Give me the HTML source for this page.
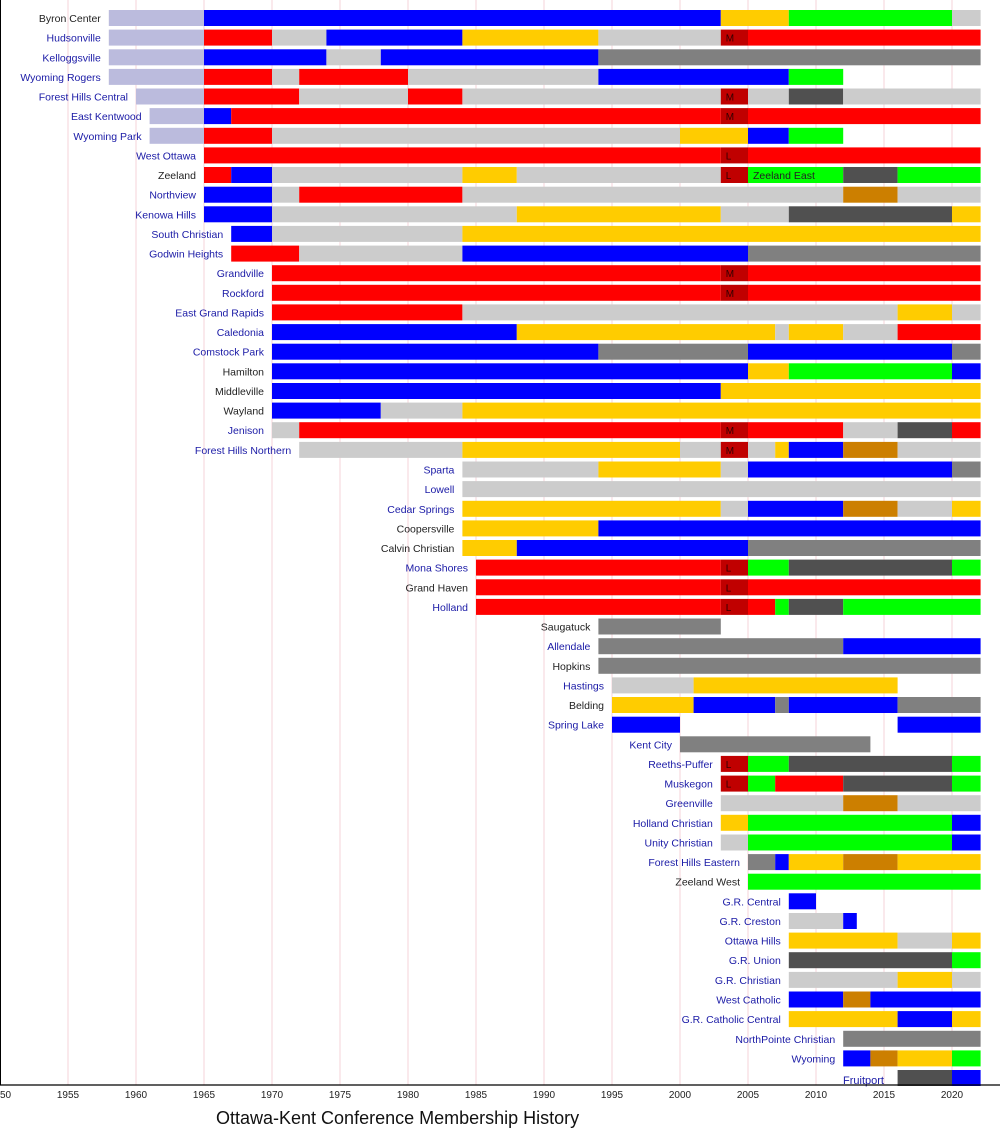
<!DOCTYPE html>
<html><head><meta charset="utf-8"><style>
html,body{margin:0;padding:0;background:#fff}
svg{display:block;font-family:"Liberation Sans",sans-serif}
</style></head><body>
<svg id="c" width="1000" height="1135" xmlns="http://www.w3.org/2000/svg"></svg>
<script>
var C={P:"#bbbbdd",B:"#0000ff",Y:"#ffcc00",G:"#00ff00",L:"#cccccc",R:"#ff0000",D:"#505050",M:"#808080",O:"#cc7f00",K:"#c00000"};
var rows=[
["Byron Center",0,"P58-65 B65-03 Y03-08 G08-20 L20-22"],
["Hudsonville",1,"P58-65 R65-70 L70-74 B74-84 Y84-94 L94-03 KM03-05 R05-22"],
["Kelloggsville",1,"P58-65 B65-74 L74-78 B78-94 M94-22"],
["Wyoming Rogers",1,"P58-65 R65-70 L70-72 R72-80 L80-94 B94-08 G08-12"],
["Forest Hills Central",1,"P60-65 R65-72 L72-80 R80-84 L84-03 KM03-05 L05-08 D08-12 L12-22"],
["East Kentwood",1,"P61-65 B65-67 R67-03 KM03-05 R05-22"],
["Wyoming Park",1,"P61-65 R65-70 L70-00 Y00-05 B05-08 G08-12"],
["West Ottawa",1,"R65-03 KL03-05 R05-22"],
["Zeeland",0,"R65-67 B67-70 L70-84 Y84-88 L88-03 KL03-05 G05-12 D12-16 G16-22"],
["Northview",1,"B65-70 L70-72 R72-84 L84-12 O12-16 L16-22"],
["Kenowa Hills",1,"B65-70 L70-88 Y88-03 L03-08 D08-20 Y20-22"],
["South Christian",1,"B67-70 L70-84 Y84-22"],
["Godwin Heights",1,"R67-72 L72-84 B84-05 M05-22"],
["Grandville",1,"R70-03 KM03-05 R05-22"],
["Rockford",1,"R70-03 KM03-05 R05-22"],
["East Grand Rapids",1,"R70-84 L84-16 Y16-20 L20-22"],
["Caledonia",1,"B70-88 Y88-07 L07-08 Y08-12 L12-16 R16-22"],
["Comstock Park",1,"B70-94 M94-05 B05-20 M20-22"],
["Hamilton",0,"B70-05 Y05-08 G08-20 B20-22"],
["Middleville",0,"B70-03 Y03-22"],
["Wayland",0,"B70-78 L78-84 Y84-22"],
["Jenison",1,"L70-72 R72-03 KM03-05 R05-12 L12-16 D16-20 R20-22"],
["Forest Hills Northern",1,"L72-84 Y84-00 L00-03 KM03-05 L05-07 Y07-08 B08-12 O12-16 L16-22"],
["Sparta",1,"L84-94 Y94-03 L03-05 B05-20 M20-22"],
["Lowell",1,"L84-22"],
["Cedar Springs",1,"Y84-03 L03-05 B05-12 O12-16 L16-20 Y20-22"],
["Coopersville",0,"Y84-94 B94-22"],
["Calvin Christian",0,"Y84-88 B88-05 M05-22"],
["Mona Shores",1,"R85-03 KL03-05 G05-08 D08-20 G20-22"],
["Grand Haven",0,"R85-03 KL03-05 R05-22"],
["Holland",1,"R85-03 KL03-05 R05-07 G07-08 D08-12 G12-22"],
["Saugatuck",0,"M94-03"],
["Allendale",1,"M94-12 B12-22"],
["Hopkins",0,"M94-22"],
["Hastings",1,"L95-01 Y01-16"],
["Belding",0,"Y95-01 B01-07 M07-08 B08-16 M16-22"],
["Spring Lake",1,"B95-00 B16-22"],
["Kent City",1,"M00-14"],
["Reeths-Puffer",1,"KL03-05 G05-08 D08-20 G20-22"],
["Muskegon",1,"KL03-05 G05-07 R07-12 D12-20 G20-22"],
["Greenville",1,"L03-12 O12-16 L16-22"],
["Holland Christian",1,"Y03-05 G05-20 B20-22"],
["Unity Christian",1,"L03-05 G05-20 B20-22"],
["Forest Hills Eastern",1,"M05-07 B07-08 Y08-12 O12-16 Y16-22"],
["Zeeland West",0,"G05-22"],
["G.R. Central",1,"B08-10"],
["G.R. Creston",1,"L08-12 B12-13"],
["Ottawa Hills",1,"Y08-16 L16-20 Y20-22"],
["G.R. Union",1,"D08-20 G20-22"],
["G.R. Christian",1,"L08-16 Y16-20 L20-22"],
["West Catholic",1,"B08-12 O12-14 B14-22"],
["G.R. Catholic Central",1,"Y08-16 B16-20 Y20-22"],
["NorthPointe Christian",1,"M12-22"],
["Wyoming",1,"B12-14 O14-16 Y16-20 G20-22"],
["Fruitport",1,"D16-20 B20-22"]
];
function yr(s){var n=parseInt(s,10);return n>=50?1900+n:2000+n;}
function X(y){return (y-1950)*13.6;}
var h="";
for(var g=1950;g<=2020;g+=5){h+='<line x1="'+X(g)+'" y1="0" x2="'+X(g)+'" y2="1085" stroke="#f6d3d9" stroke-width="1"/>';}
rows.forEach(function(r,i){
 var cy=18+i*19.63, top=cy-8;
 var segs=r[2].split(" "), first=null;
 segs.forEach(function(s){
  var m=s.match(/^([A-Z])([LM]?)(\d\d)-(\d\d)$/);
  var a=yr(m[3]),b=yr(m[4]); if(b===2022)b=2022.1;
  if(first===null)first=a;
  var x1=X(a),x2=X(b);
  h+='<rect x="'+x1.toFixed(1)+'" y="'+top.toFixed(1)+'" width="'+(x2-x1).toFixed(1)+'" height="16" fill="'+C[m[1]]+'"/>';
  if(m[2])h+='<text x="'+(x1+5)+'" y="'+(cy+4)+'" font-size="10" fill="#300">'+m[2]+'</text>';
 });
 var lx=X(first)-8;
 if(r[0]==="Fruitport"){h+='<text x="843" y="'+(cy+6)+'" font-size="11" fill="#1a1aa6">Fruitport</text>';}
 else h+='<text x="'+lx.toFixed(1)+'" y="'+(cy+4)+'" font-size="10.5" text-anchor="end" fill="'+(r[1]?"#1a1aa6":"#222")+'">'+r[0]+'</text>';
 if(r[0]==="Zeeland")h+='<text x="753" y="'+(cy+4)+'" font-size="10.5" fill="#222">Zeeland East</text>';
});
h+='<line x1="0" y1="1085" x2="1000" y2="1085" stroke="#000" stroke-width="1.2"/>';
h+='<line x1="0.5" y1="0" x2="0.5" y2="1085" stroke="#000" stroke-width="1"/>';
for(var g=1950;g<=2020;g+=5){h+='<text x="'+X(g)+'" y="1098" font-size="10" text-anchor="middle" fill="#222">'+g+'</text>';}
h+='<text x="216" y="1124" font-size="18" fill="#111">Ottawa-Kent Conference Membership History</text>';
document.getElementById("c").innerHTML=h;
</script>
</body></html>
